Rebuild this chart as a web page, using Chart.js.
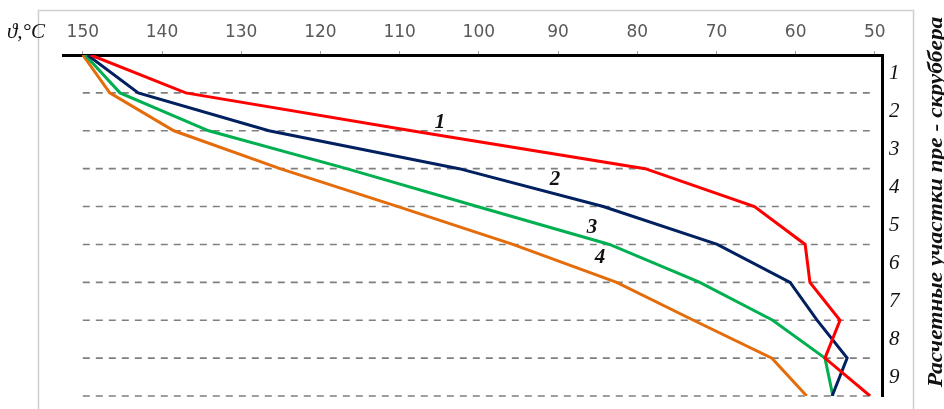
<!DOCTYPE html>
<html>
<head>
<meta charset="utf-8">
<script src="https://cdn.jsdelivr.net/npm/chart.js@4/dist/chart.umd.min.js"></script>
<style>
  html, body { margin: 0; padding: 0; background: #fff; }
  #wrap { width: 944px; height: 409px; }
</style>
</head>
<body>
<div id="wrap"><canvas id="c" width="944" height="409"></canvas></div>
<script>
// sections of the pre-scrubber (boundaries 0..9), temperatures in °C
const levels = [0, 1, 2, 3, 4, 5, 6, 7, 8, 9]
const sectionLabels = ['1', '2', '3', '4', '5', '6', '7', '8', '9']
const tempTicks = [150, 140, 130, 120, 110, 100, 90, 80, 70, 60, 50]
const curve1 = [149, 137, 108.5, 79, 65.2, 58.8, 58.2, 54.4, 56.3, 50.6]
const curve2 = [149.4, 143, 126.5, 102.5, 84.3, 69.9, 60.7, 57.3, 53.5, 55.4]
const curve3 = [149.7, 145.3, 134.1, 116.7, 100.2, 83.5, 72.1, 62.9, 56.3, 55.3]
const curve4 = [150, 146.6, 138.5, 125.1, 110.2, 95.7, 82.6, 72.9, 63.0, 58.6]
const curveNames = ['1', '2', '3', '4']
const curveNameTemp = [104.9, 90.4, 85.7, 84.7]
const curveNameLevel = [1.79, 3.3, 4.55, 5.34]
const axisTitle = 'Расчетные участки пре - скруббера'
const unitLabel = 'ϑ,°C'

const colors = ['#ff0000', '#002060', '#00b050', '#e46c0a']

function pts(arr) {
  return levels.map((l, i) => ({ x: arr[i], y: l }))
}

const extras = {
  id: 'extras',
  beforeDraw(chart) {
    const ctx = chart.ctx
    ctx.save()
    ctx.strokeStyle = '#cfcfcf'
    ctx.lineWidth = 1.5
    ctx.strokeRect(38.5, 10.5, 875, 420)
    ctx.restore()
  },
  beforeDatasetsDraw(chart) {
    const { ctx, scales: { x, y } } = chart
    const x0 = x.getPixelForValue(150)
    const x1 = x.getPixelForValue(50.4)
    ctx.save()
    ctx.setLineDash([7, 6])
    ctx.strokeStyle = '#7f7f7f'
    ctx.lineWidth = 1.6
    levels.slice(1).forEach(l => {
      const py = y.getPixelForValue(l)
      ctx.beginPath()
      ctx.moveTo(x0, py)
      ctx.lineTo(x1, py)
      ctx.stroke()
    })
    ctx.restore()
  },
  afterDraw(chart) {
    const { ctx, scales: { x, y } } = chart
    ctx.save()
    ctx.fillStyle = '#111'
    ctx.font = 'bold italic 21px "Liberation Serif"'
    ctx.textAlign = 'center'
    ctx.textBaseline = 'middle'
    curveNames.forEach((n, i) => {
      ctx.fillText(n, x.getPixelForValue(curveNameTemp[i]), y.getPixelForValue(curveNameLevel[i]))
    })
    ctx.font = 'italic 21px "Liberation Serif"'
    ctx.textAlign = 'left'
    ctx.textBaseline = 'alphabetic'
    ctx.fillText(unitLabel, 7, 38)
    // rotated side title, a bit stretched along its length like the original
    ctx.translate(937, 202)
    ctx.rotate(-Math.PI / 2)
    ctx.scale(1.17, 1)
    ctx.textAlign = 'center'
    ctx.textBaseline = 'middle'
    ctx.font = 'bold italic 20px "Liberation Serif"'
    ctx.fillText(axisTitle, 0, 0)
    ctx.restore()
  }
}

new Chart(document.getElementById('c').getContext('2d'), {
  type: 'line',
  data: {
    datasets: [curve1, curve2, curve3, curve4].map((c, i) => ({
      label: curveNames[i],
      data: pts(c),
      borderColor: colors[i],
      borderWidth: 3,
      pointRadius: 0,
      tension: 0,
      fill: false,
      yAxisID: 'y'
    }))
  },
  options: {
    animation: false,
    responsive: false,
    maintainAspectRatio: false,
    devicePixelRatio: 1,
    layout: { padding: { left: 63, top: 10, right: 32, bottom: 13 } },
    plugins: { legend: { display: false }, tooltip: { enabled: false } },
    scales: {
      x: {
        type: 'linear',
        position: 'top',
        reverse: true,
        min: 49.1,
        max: 152.5,
        afterBuildTicks(scale) { scale.ticks = tempTicks.map(v => ({ value: v })) },
        afterFit(scale) { scale.height = 45; scale.paddingLeft = 0; scale.paddingRight = 0 },
        grid: { drawOnChartArea: false, drawTicks: true, tickLength: 4, color: '#a0a0a0' },
        border: { color: '#000', width: 3 },
        ticks: { color: '#595959', padding: 8, font: { family: 'DejaVu Sans', size: 17 } }
      },
      y: {
        type: 'linear',
        display: false,
        reverse: true,
        min: 0,
        max: 9
      },
      y2: {
        type: 'linear',
        position: 'right',
        reverse: true,
        min: 0,
        max: 9,
        afterBuildTicks(scale) { scale.ticks = sectionLabels.map((s, i) => ({ value: i + 0.5 })) },
        afterFit(scale) { scale.width = 30; scale.paddingTop = 0; scale.paddingBottom = 0 },
        grid: { drawOnChartArea: false, drawTicks: false },
        border: { color: '#000', width: 3 },
        ticks: {
          color: '#111',
          padding: 7,
          font: { family: 'Liberation Serif', style: 'italic', size: 21 },
          callback: (v, i) => sectionLabels[i]
        }
      }
    }
  },
  plugins: [extras]
})
</script>
</body>
</html>
